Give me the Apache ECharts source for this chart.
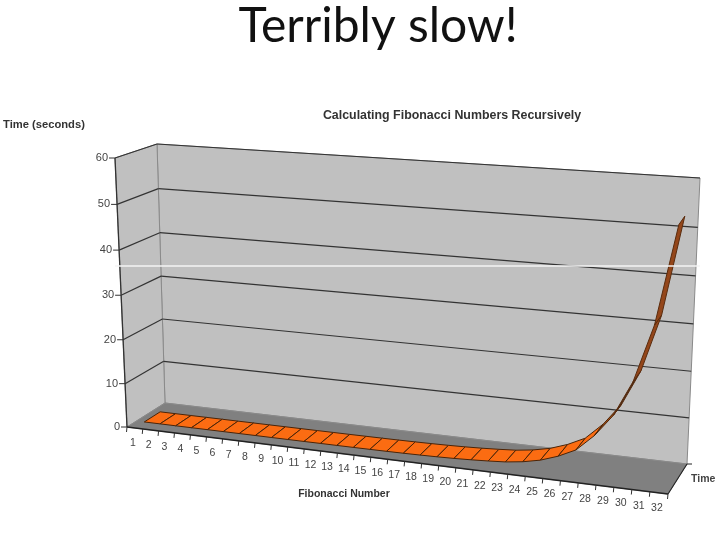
<!DOCTYPE html>
<html><head><meta charset="utf-8">
<style>html,body{margin:0;padding:0;background:#fff}#c{width:720px;height:540px;filter:blur(0.4px)}</style>
<script src="https://cdn.jsdelivr.net/npm/echarts@6/dist/echarts.min.js"></script>
</head><body><div id="c"></div>
<script>
const categories = ['1','2','3','4','5','6','7','8','9','10','11','12','13','14','15','16','17','18','19','20','21','22','23','24','25','26','27','28','29','30','31','32'];
const timeValues = [0,0,0,0,0,0,0,0,0,0,0,0.01,0.01,0.02,0.03,0.05,0.08,0.13,0.2,0.3,0.45,0.65,0.9,1.4,2.2,3.5,5.3,8.8,13.5,21,33,53.5];
const yTicks = [0,10,20,30,40,50,60];
const titleText = 'Terribly slow!';
const chartTitle = 'Calculating Fibonacci Numbers Recursively';
const yName = 'Time (seconds)';
const xName = 'Fibonacci Number';
const zName = 'Time';

// the chart box in perspective: [x, y] of its eight corners
const box = {
  frontBottomLeft:[127,427], frontBottomRight:[668,494],
  backBottomLeft:[165,403], backBottomRight:[687,464],
  frontTopLeft:[115,158], frontTopRight:[687,197],
  backTopLeft:[157,144], backTopRight:[700,178]
};
const warp = (t,w)=>t*w/((1-t)+t*w);
const mix = (a,b,t)=>[a[0]+(b[0]-a[0])*t, a[1]+(b[1]-a[1])*t];
function project(u,v,z){
  const U=warp(u,0.93), V=warp(v,0.96), b=box;
  const f=mix(mix(b.frontBottomLeft,b.frontBottomRight,U),mix(b.frontTopLeft,b.frontTopRight,U),V);
  const k=mix(mix(b.backBottomLeft,b.backBottomRight,U),mix(b.backTopLeft,b.backTopRight,U),V);
  return mix(f,k,z);
}
function toPlot(api,params,x,y,z){
  const c=api.coord([x,y]), r=params.coordSys;
  return project((c[0]-r.x)/r.width, 1-(c[1]-r.y)/r.height, z);
}
const X0=0, X1=categories.length, Y0=0, Y1=60;
const ribbonFront=0.25, ribbonBack=0.67;
const labelInk='#444';

function renderWalls(params,api){
  const p=(x,y,z)=>toPlot(api,params,x,y,z);
  const poly=(pts,fill)=>({type:'polygon',shape:{points:pts},style:{fill,stroke:'#8a8a8a',lineWidth:1}});
  const line=(a,b,col,w)=>({type:'line',shape:{x1:a[0],y1:a[1],x2:b[0],y2:b[1]},style:{stroke:col,lineWidth:w}});
  const bl=p(X0,Y0,1), br=p(X1,Y0,1), tl=p(X0,Y1,1), tr=p(X1,Y1,1), fl=p(X0,Y0,0), fr=p(X1,Y0,0), ftl=p(X0,Y1,0);
  return {type:'group',children:[
    poly([bl,br,tr,tl],'#c0c0c0'),
    poly([fl,bl,tl,ftl],'#c0c0c0'),
    poly([fl,fr,br,bl],'#808080'),
    line(ftl,fl,'#333',1.3),
    line(fl,fr,'#222',1.3),
    line(fr,br,'#222',1.1),
    line(br,[br[0]+5,br[1]],'#222',1)
  ]};
}
function renderGrid(params,api){
  const v=api.value(0);
  const a=toPlot(api,params,X0,v,0), b=toPlot(api,params,X0,v,1), c=toPlot(api,params,X1,v,1);
  const seg=(p,q,col,w)=>({type:'line',shape:{x1:p[0],y1:p[1],x2:q[0],y2:q[1]},style:{stroke:col,lineWidth:w}});
  const kids=[seg([a[0]-6,a[1]],a,'#333',1)];
  if(v>0){kids.push(seg(a,b,'#333',1.2));kids.push(seg(b,c,'#333',1.2));}
  kids.push({type:'text',style:{text:String(v),x:a[0]-7,y:a[1],align:'right',verticalAlign:'middle',fill:labelInk,font:'11px "Liberation Sans"'}});
  return {type:'group',children:kids};
}
function renderTicks(params,api){
  const i=api.value(0);
  const t=toPlot(api,params,i,Y0,0), m=toPlot(api,params,i+0.5,Y0,0);
  const kids=[{type:'line',shape:{x1:t[0],y1:t[1],x2:t[0]-0.5,y2:t[1]+5},style:{stroke:'#333',lineWidth:1}}];
  if(i<categories.length){
    kids.push({type:'text',style:{text:categories[i],x:m[0]-2,y:m[1]+15,align:'center',verticalAlign:'middle',fill:labelInk,font:'10.5px "Liberation Sans"'}});
  }
  return {type:'group',children:kids};
}
function ribbonColor(d){
  if(d<3.6) return '#fb6c12';
  if(d<6) return '#a64e14';
  if(d<9) return '#4a2a14';
  return '#94461a';
}
function renderRibbon(params,api){
  const i=params.dataIndex;
  if(i>=timeValues.length-1) return null;
  const x=api.value(0), y=api.value(1), y2=timeValues[i+1], d=y2-y;
  const pts=[toPlot(api,params,x,y,ribbonFront),toPlot(api,params,x+1,y2,ribbonFront),toPlot(api,params,x+1,y2,ribbonBack),toPlot(api,params,x,y,ribbonBack)];
  return {type:'polygon',shape:{points:pts},style:{fill:ribbonColor(d),stroke:d>6?'#5a2c0e':'#4a2408',lineWidth:1}};
}
const gridDraw={coordinateSystem:'cartesian2d',clip:false,silent:true,animation:false};
const option={
  animation:false,
  backgroundColor:'#fff',
  title:[
    {text:titleText,left:373,top:-2,textAlign:'center',textStyle:{fontFamily:'Lato',fontWeight:'normal',fontSize:48,color:'#111'}},
    {text:chartTitle,left:447,top:105,textAlign:'center',textStyle:{fontFamily:'Liberation Sans',fontWeight:'bold',fontSize:12.4,color:'#333'}},
    {text:yName,left:-2,top:114,textStyle:{fontFamily:'Liberation Sans',fontWeight:'bold',fontSize:11.2,color:'#333'}},
    {text:xName,left:339,top:484,textAlign:'center',textStyle:{fontFamily:'Liberation Sans',fontWeight:'bold',fontSize:10.5,color:'#333'}},
    {text:zName,left:686,top:469,textStyle:{fontFamily:'Liberation Sans',fontSize:10.5,color:labelInk}}
  ],
  grid:{left:0,right:0,top:0,bottom:0},
  xAxis:{type:'value',min:X0,max:X1,show:false},
  yAxis:{type:'value',min:Y0,max:Y1,show:false},
  series:[
    Object.assign({type:'custom',name:'walls',data:[[0]],renderItem:renderWalls,z:1},gridDraw),
    Object.assign({type:'custom',name:'gridlines',data:yTicks.map(v=>[v]),renderItem:renderGrid,z:2},gridDraw),
    Object.assign({type:'custom',name:'category ticks',data:categories.concat(['']).map((c,i)=>[i]),renderItem:renderTicks,z:2},gridDraw),
    Object.assign({type:'custom',name:'Time',data:timeValues.map((v,i)=>[i+0.5,v]),renderItem:renderRibbon,z:3},gridDraw)
  ],
  graphic:[{type:'line',z:100,silent:true,shape:{x1:115,y1:266,x2:700,y2:266},style:{stroke:'#f4f4f4',lineWidth:1.5}}]
};
echarts.init(document.getElementById('c')).setOption(option);
</script></body></html>
